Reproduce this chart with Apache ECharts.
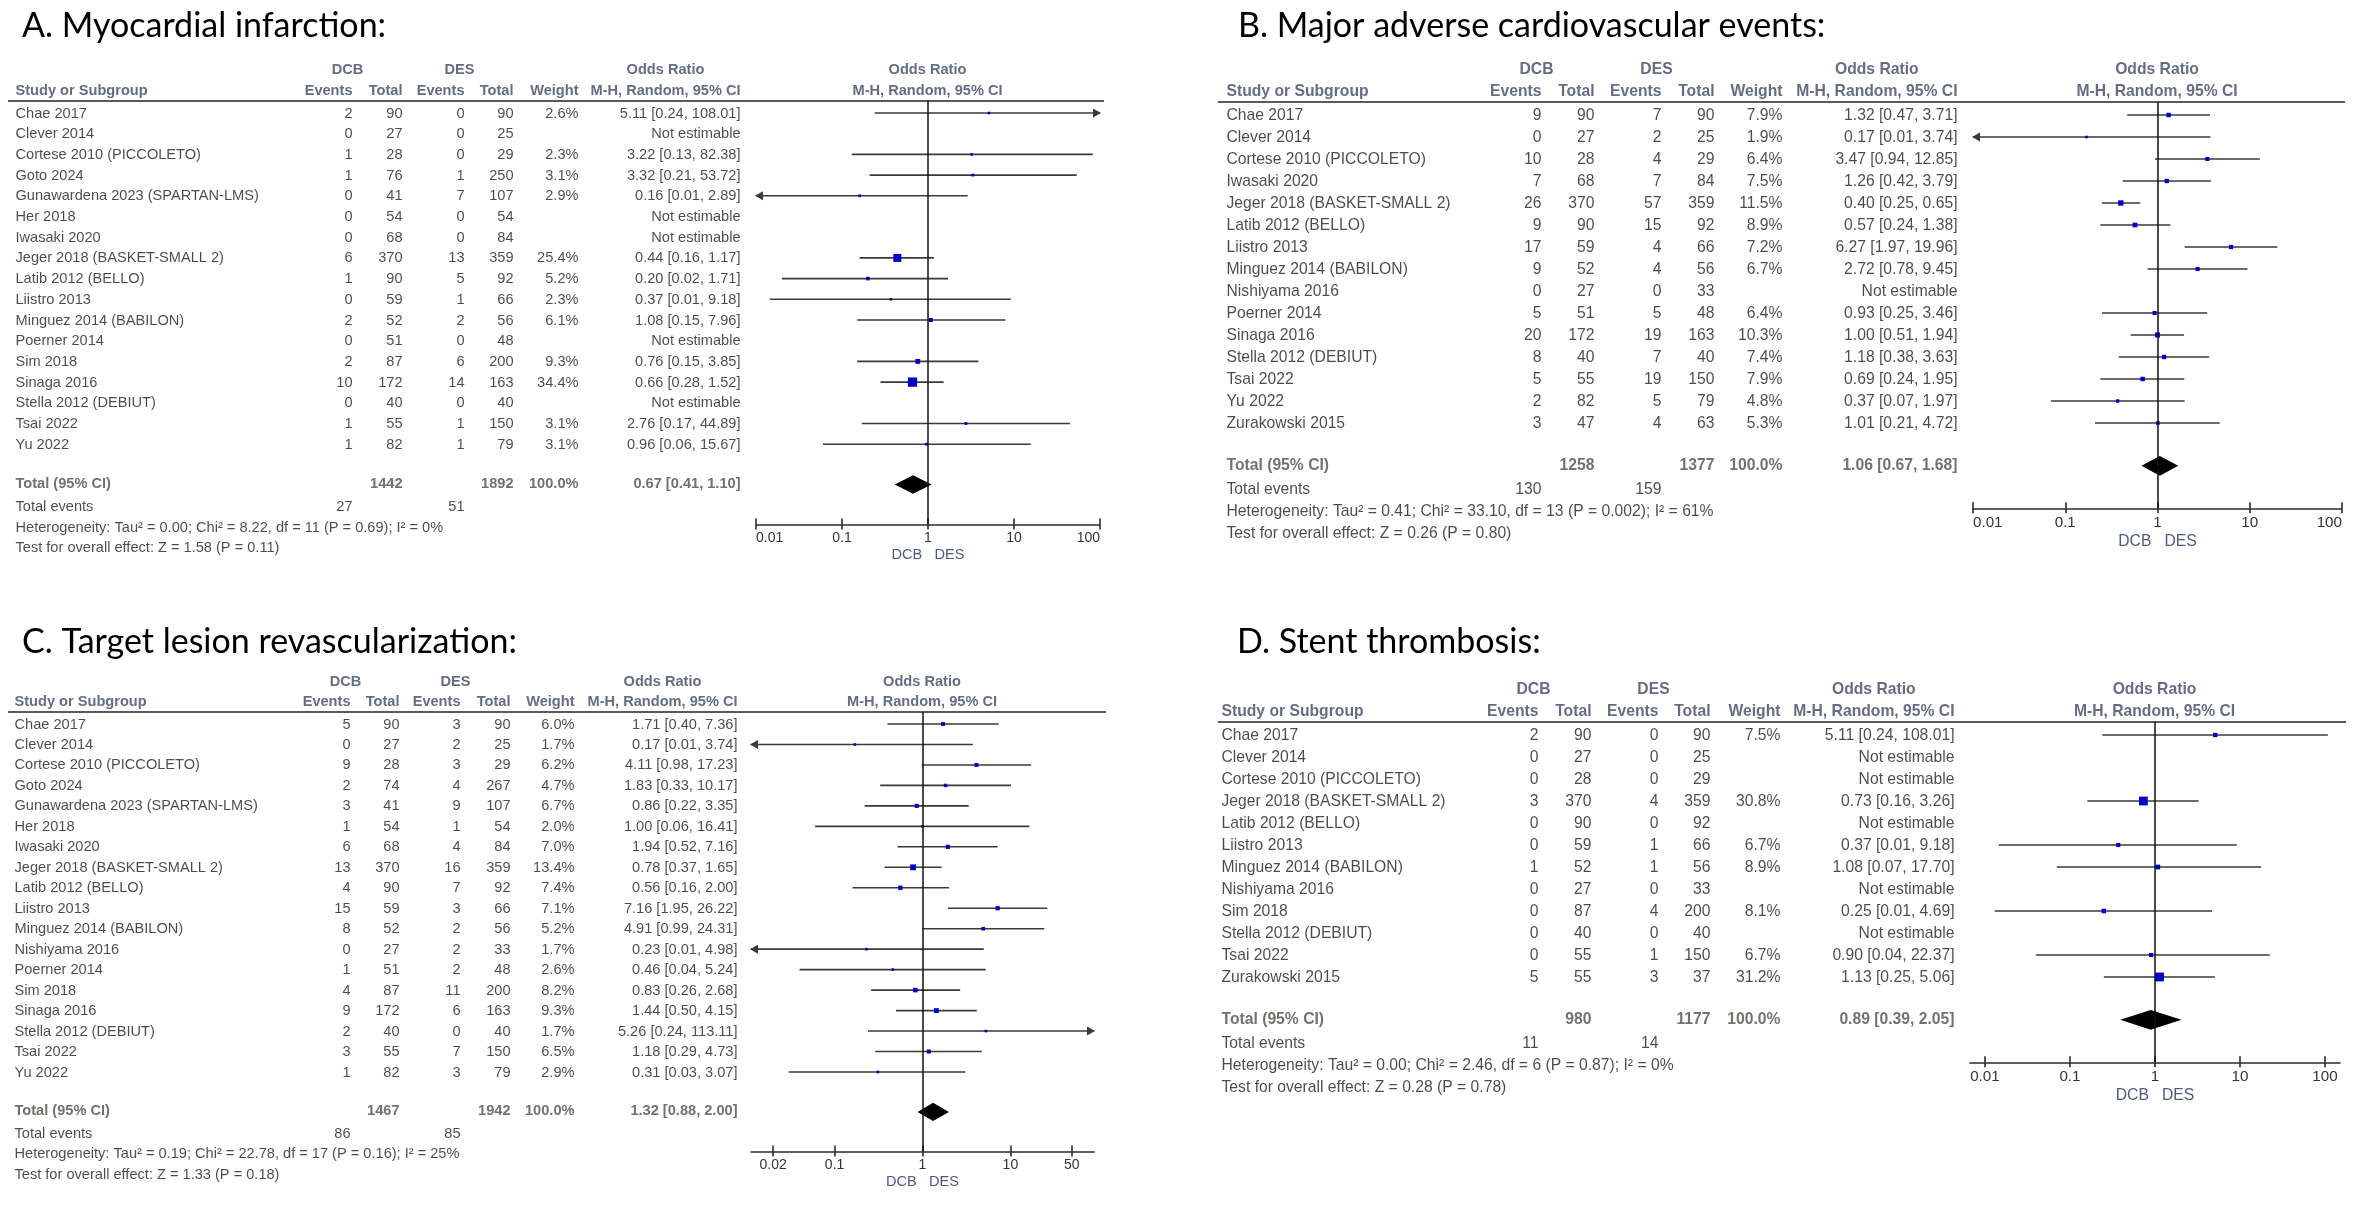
<!DOCTYPE html>
<html><head><meta charset="utf-8">
<script src="https://cdn.jsdelivr.net/npm/echarts@6/dist/echarts.min.js"></script>
<style>html,body{margin:0;padding:0;background:#fff}#c{width:2370px;height:1206px}</style>
</head><body><div id="c"></div><script>
// ---------------- DATA ----------------
// A. Myocardial infarction
const studiesMI = ["Chae 2017","Clever 2014","Cortese 2010 (PICCOLETO)","Goto 2024","Gunawardena 2023 (SPARTAN-LMS)","Her 2018","Iwasaki 2020","Jeger 2018 (BASKET-SMALL 2)","Latib 2012 (BELLO)","Liistro 2013","Minguez 2014 (BABILON)","Poerner 2014","Sim 2018","Sinaga 2016","Stella 2012 (DEBIUT)","Tsai 2022","Yu 2022"];
const dcbEventsMI = [2,0,1,1,0,0,0,6,1,0,2,0,2,10,0,1,1];
const dcbTotalMI  = [90,27,28,76,41,54,68,370,90,59,52,51,87,172,40,55,82];
const desEventsMI = [0,0,0,1,7,0,0,13,5,1,2,0,6,14,0,1,1];
const desTotalMI  = [90,25,29,250,107,54,84,359,92,66,56,48,200,163,40,150,79];
const weightMI = [2.6,null,2.3,3.1,2.9,null,null,25.4,5.2,2.3,6.1,null,9.3,34.4,null,3.1,3.1];
const orMI     = [5.11,null,3.22,3.32,0.16,null,null,0.44,0.20,0.37,1.08,null,0.76,0.66,null,2.76,0.96];
const lowMI    = [0.24,null,0.13,0.21,0.009,null,null,0.16,0.02,0.0145,0.15,null,0.15,0.28,null,0.17,0.06];
const highMI   = [108.01,null,82.38,53.72,2.89,null,null,1.17,1.71,9.18,7.96,null,3.85,1.52,null,44.89,15.67];
const totalsMI = [1442,1892];
const totalEventsMI = [27,51];
const pooledMI = [0.67,0.41,1.10];
const hetMI  = "Heterogeneity: Tau² = 0.00; Chi² = 8.22, df = 11 (P = 0.69); I² = 0%";
const testMI = "Test for overall effect: Z = 1.58 (P = 0.11)";

// B. Major adverse cardiovascular events
const studiesMACE = ["Chae 2017","Clever 2014","Cortese 2010 (PICCOLETO)","Iwasaki 2020","Jeger 2018 (BASKET-SMALL 2)","Latib 2012 (BELLO)","Liistro 2013","Minguez 2014 (BABILON)","Nishiyama 2016","Poerner 2014","Sinaga 2016","Stella 2012 (DEBIUT)","Tsai 2022","Yu 2022","Zurakowski 2015"];
const dcbEventsMACE = [9,0,10,7,26,9,17,9,0,5,20,8,5,2,3];
const dcbTotalMACE  = [90,27,28,68,370,90,59,52,27,51,172,40,55,82,47];
const desEventsMACE = [7,2,4,7,57,15,4,4,0,5,19,7,19,5,4];
const desTotalMACE  = [90,25,29,84,359,92,66,56,33,48,163,40,150,79,63];
const weightMACE = [7.9,1.9,6.4,7.5,11.5,8.9,7.2,6.7,null,6.4,10.3,7.4,7.9,4.8,5.3];
const orMACE     = [1.32,0.17,3.47,1.26,0.40,0.57,6.27,2.72,null,0.93,1.00,1.18,0.69,0.37,1.01];
const lowMACE    = [0.47,0.008,0.94,0.42,0.25,0.24,1.97,0.78,null,0.25,0.51,0.38,0.24,0.07,0.21];
const highMACE   = [3.71,3.74,12.85,3.79,0.65,1.38,19.96,9.45,null,3.46,1.94,3.63,1.95,1.97,4.72];
const totalsMACE = [1258,1377];
const totalEventsMACE = [130,159];
const pooledMACE = [1.06,0.67,1.68];
const hetMACE  = "Heterogeneity: Tau² = 0.41; Chi² = 33.10, df = 13 (P = 0.002); I² = 61%";
const testMACE = "Test for overall effect: Z = 0.26 (P = 0.80)";

// C. Target lesion revascularization
const studiesTLR = ["Chae 2017","Clever 2014","Cortese 2010 (PICCOLETO)","Goto 2024","Gunawardena 2023 (SPARTAN-LMS)","Her 2018","Iwasaki 2020","Jeger 2018 (BASKET-SMALL 2)","Latib 2012 (BELLO)","Liistro 2013","Minguez 2014 (BABILON)","Nishiyama 2016","Poerner 2014","Sim 2018","Sinaga 2016","Stella 2012 (DEBIUT)","Tsai 2022","Yu 2022"];
const dcbEventsTLR = [5,0,9,2,3,1,6,13,4,15,8,0,1,4,9,2,3,1];
const dcbTotalTLR  = [90,27,28,74,41,54,68,370,90,59,52,27,51,87,172,40,55,82];
const desEventsTLR = [3,2,3,4,9,1,4,16,7,3,2,2,2,11,6,0,7,3];
const desTotalTLR  = [90,25,29,267,107,54,84,359,92,66,56,33,48,200,163,40,150,79];
const weightTLR = [6.0,1.7,6.2,4.7,6.7,2.0,7.0,13.4,7.4,7.1,5.2,1.7,2.6,8.2,9.3,1.7,6.5,2.9];
const orTLR     = [1.71,0.17,4.11,1.83,0.86,1.00,1.94,0.78,0.56,7.16,4.91,0.23,0.46,0.83,1.44,5.26,1.18,0.31];
const lowTLR    = [0.40,0.008,0.98,0.33,0.22,0.06,0.52,0.37,0.16,1.95,0.99,0.0106,0.04,0.26,0.50,0.24,0.29,0.03];
const highTLR   = [7.36,3.74,17.23,10.17,3.35,16.41,7.16,1.65,2.00,26.22,24.31,4.98,5.24,2.68,4.15,113.11,4.73,3.07];
const totalsTLR = [1467,1942];
const totalEventsTLR = [86,85];
const pooledTLR = [1.32,0.88,2.00];
const hetTLR  = "Heterogeneity: Tau² = 0.19; Chi² = 22.78, df = 17 (P = 0.16); I² = 25%";
const testTLR = "Test for overall effect: Z = 1.33 (P = 0.18)";

// D. Stent thrombosis
const studiesST = ["Chae 2017","Clever 2014","Cortese 2010 (PICCOLETO)","Jeger 2018 (BASKET-SMALL 2)","Latib 2012 (BELLO)","Liistro 2013","Minguez 2014 (BABILON)","Nishiyama 2016","Sim 2018","Stella 2012 (DEBIUT)","Tsai 2022","Zurakowski 2015"];
const dcbEventsST = [2,0,0,3,0,0,1,0,0,0,0,5];
const dcbTotalST  = [90,27,28,370,90,59,52,27,87,40,55,55];
const desEventsST = [0,0,0,4,0,1,1,0,4,0,1,3];
const desTotalST  = [90,25,29,359,92,66,56,33,200,40,150,37];
const weightST = [7.5,null,null,30.8,null,6.7,8.9,null,8.1,null,6.7,31.2];
const orST     = [5.11,null,null,0.73,null,0.37,1.08,null,0.25,null,0.90,1.13];
const lowST    = [0.24,null,null,0.16,null,0.0145,0.07,null,0.013,null,0.04,0.25];
const highST   = [108.01,null,null,3.26,null,9.18,17.70,null,4.69,null,22.37,5.06];
const totalsST = [980,1177];
const totalEventsST = [11,14];
const pooledST = [0.89,0.39,2.05];
const hetST  = "Heterogeneity: Tau² = 0.00; Chi² = 2.46, df = 6 (P = 0.87); I² = 0%";
const testST = "Test for overall effect: Z = 0.28 (P = 0.78)";

const axisTicksDecades = [0.01,0.1,1,10,100];
const axisTicksTLR = [0.02,0.1,1,10,50];

// ---------------- LAYOUT ----------------
const panels = [
  {title:"A. Myocardial infarction:", tx:22, ty:30, left:8, right:1104, row0:114, s:20.7, fs:14.6, tfs:14,
   cols:[16,353,403,465,514,579,741], plot:[756,1100], range:[0.01,100], ticks:axisTicksDecades, alignEnds:true,
   d:[studiesMI,dcbEventsMI,dcbTotalMI,desEventsMI,desTotalMI,weightMI,orMI,lowMI,highMI,totalsMI,totalEventsMI,pooledMI,hetMI,testMI]},
  {title:"B. Major adverse cardiovascular events:", tx:1238, ty:30, left:1218, right:2345, row0:116, s:22.0, fs:15.7, tfs:15.2,
   cols:[1227,1542,1595,1662,1715,1783,1958], plot:[1973,2342], range:[0.01,100], ticks:axisTicksDecades, alignEnds:true,
   d:[studiesMACE,dcbEventsMACE,dcbTotalMACE,desEventsMACE,desTotalMACE,weightMACE,orMACE,lowMACE,highMACE,totalsMACE,totalEventsMACE,pooledMACE,hetMACE,testMACE]},
  {title:"C. Target lesion revascularization:", tx:22, ty:646, left:8, right:1106, row0:725, s:20.47, fs:14.6, tfs:14,
   cols:[15,351,400,461,511,575,738], plot:[751,1094], range:[0.0112,89.3], ticks:axisTicksTLR, alignEnds:false,
   d:[studiesTLR,dcbEventsTLR,dcbTotalTLR,desEventsTLR,desTotalTLR,weightTLR,orTLR,lowTLR,highTLR,totalsTLR,totalEventsTLR,pooledTLR,hetTLR,testTLR]},
  {title:"D. Stent thrombosis:", tx:1237, ty:646, left:1218, right:2346, row0:736, s:22.0, fs:15.7, tfs:15.2,
   cols:[1222,1539,1592,1659,1711,1781,1955], plot:[1970,2340], range:[0.00667,150], ticks:axisTicksDecades, alignEnds:false,
   d:[studiesST,dcbEventsST,dcbTotalST,desEventsST,desTotalST,weightST,orST,lowST,highST,totalsST,totalEventsST,pooledST,hetST,testST]}
];

const FONT = "'Liberation Sans', Arial, Helvetica, sans-serif";
const TXT = '#1e1e1e', HDR = '#3f4866', TOT = '#524c46';
const grids=[], xAxes=[], yAxes=[], series=[], titles=[];

function ci(o,l,h){ return o.toFixed(2)+' ['+l.toFixed(2)+', '+h.toFixed(2)+']'; }

panels.forEach(P => {
  const [studies,dcbEv,dcbTot,desEv,desTot,weight,or,lo,hi,totals,totEv,pooled,het,test] = P.d;
  const n = studies.length;
  const totalRow = n - 1 + 1.9, teRow = totalRow + 1.1, hetRow = teRow + 1.0, testRow = hetRow + 1.0, axisRow = totalRow + 1.93;
  const tMin = -3, tMax = testRow + 0.9, lineRow = -0.65;
  const [cName,cDcbEv,cDcbTot,cDesEv,cDesTot,cW,cOR] = P.cols;
  const plotMid = (P.plot[0] + P.plot[1]) / 2;

  titles.push({text:P.title, left:P.tx, top:P.ty - 21, padding:0,
    textStyle:{fontFamily:"Lato, 'Open Sans', sans-serif", fontSize:34, fontWeight:'normal', color:'#000'}});

  const plotRect = {left:P.plot[0], top:P.row0 + lineRow*P.s, width:P.plot[1]-P.plot[0], height:(axisRow-lineRow)*P.s, outerBoundsMode:'none'};
  const gT = grids.length;
  grids.push({left:P.left, top:P.row0 + tMin*P.s, width:P.right-P.left, height:(tMax-tMin)*P.s, outerBoundsMode:'none'});
  const gP = grids.length;
  grids.push(Object.assign({}, plotRect));
  const gK = grids.length;           // twin grid for the upward tick marks
  grids.push(Object.assign({}, plotRect));

  const xT = xAxes.length;
  xAxes.push({type:'value', gridIndex:gT, min:P.left, max:P.right, show:false});
  const yT = yAxes.length;
  yAxes.push({type:'value', gridIndex:gT, min:tMin, max:tMax, inverse:true, show:false});

  const xP = xAxes.length;
  xAxes.push({type:'log', logBase:10, gridIndex:gP, min:P.range[0], max:P.range[1], position:'bottom',
    axisLine:{show:true, onZero:false, lineStyle:{color:'#2a2a2a', width:1.6}},
    axisTick:{show:true, inside:false, length:5, customValues:P.ticks, lineStyle:{color:'#2a2a2a', width:1.6}},
    axisLabel:{show:true, customValues:P.ticks, margin:7, color:'#333', fontFamily:FONT, fontSize:P.tfs,
      formatter:v=>String(+v.toPrecision(6)),
      alignMinLabel:P.alignEnds?'left':null, alignMaxLabel:P.alignEnds?'right':null},
    splitLine:{show:false},
    name:'DCB   DES', nameLocation:'middle', nameGap:1.6*P.fs,
    nameTextStyle:{color:'#4e5b80', fontFamily:FONT, fontSize:P.fs}});
  const yP = yAxes.length;
  yAxes.push({type:'value', gridIndex:gP, min:lineRow, max:axisRow, inverse:true, show:false});

  xAxes.push({type:'log', logBase:10, gridIndex:gK, min:P.range[0], max:P.range[1], position:'bottom',
    axisLine:{show:false, onZero:false}, axisLabel:{show:false}, splitLine:{show:false},
    axisTick:{show:true, inside:true, length:6, customValues:P.ticks, lineStyle:{color:'#2a2a2a', width:1.6}}});
  yAxes.push({type:'value', gridIndex:gK, min:lineRow, max:axisRow, inverse:true, show:false});

  // ---- table texts ----
  const texts = [];
  const T = (x,row,text,extra) => texts.push({name:text, value:[x,row], label:extra||{}});
  const hdr = {fontWeight:'bold', color:HDR};
  const hdrC = {fontWeight:'bold', color:HDR, align:'center'};
  const tot = {fontWeight:'bold', color:TOT};
  T(cDcbEv-5, -2.1, 'DCB', hdrC);
  T(cDesEv-5, -2.1, 'DES', hdrC);
  T(cOR - 5.14*P.fs, -2.1, 'Odds Ratio', hdrC);
  T(plotMid, -2.1, 'Odds Ratio', hdrC);
  T(cName, -1.1, 'Study or Subgroup', {fontWeight:'bold', color:HDR, align:'left'});
  T(cDcbEv, -1.1, 'Events', hdr);
  T(cDcbTot, -1.1, 'Total', hdr);
  T(cDesEv, -1.1, 'Events', hdr);
  T(cDesTot, -1.1, 'Total', hdr);
  T(cW, -1.1, 'Weight', hdr);
  T(cOR, -1.1, 'M-H, Random, 95% CI', hdr);
  T(plotMid, -1.1, 'M-H, Random, 95% CI', hdrC);
  for (let i=0;i<n;i++){
    T(cName, i, studies[i], {align:'left'});
    T(cDcbEv, i, String(dcbEv[i]));
    T(cDcbTot, i, String(dcbTot[i]));
    T(cDesEv, i, String(desEv[i]));
    T(cDesTot, i, String(desTot[i]));
    if (weight[i] != null) T(cW, i, weight[i].toFixed(1)+'%');
    T(cOR, i, or[i] != null ? ci(or[i],lo[i],hi[i]) : 'Not estimable');
  }
  T(cName, totalRow, 'Total (95% CI)', {fontWeight:'bold', color:TOT, align:'left'});
  T(cDcbTot, totalRow, String(totals[0]), tot);
  T(cDesTot, totalRow, String(totals[1]), tot);
  T(cW, totalRow, '100.0%', tot);
  T(cOR, totalRow, ci(pooled[0],pooled[1],pooled[2]), tot);
  T(cName, teRow, 'Total events', {align:'left'});
  T(cDcbEv, teRow, String(totEv[0]));
  T(cDesEv, teRow, String(totEv[1]));
  T(cName, hetRow, het, {align:'left'});
  T(cName, testRow, test, {align:'left'});

  series.push({type:'scatter', xAxisIndex:xT, yAxisIndex:yT, symbolSize:1, silent:true,
    itemStyle:{color:'rgba(0,0,0,0)'}, emphasis:{disabled:true},
    label:{show:true, position:[0,0], formatter:'{b}', fontFamily:FONT, fontSize:P.fs, color:TXT, align:'right', verticalAlign:'middle'},
    markLine:{silent:true, symbol:['none','none'], label:{show:false}, animation:false,
      lineStyle:{color:'#5a5a5a', width:2.2, type:'solid'}, data:[{yAxis:lineRow}]},
    data:texts});

  // ---- study CIs and boxes ----
  const studyData = [];
  for (let i=0;i<n;i++) if (or[i] != null) studyData.push([or[i], lo[i], hi[i], i, weight[i]]);
  series.push({type:'custom', xAxisIndex:xP, yAxisIndex:yP, clip:false, silent:true, data:studyData,
    renderItem:(params, api) => {
      const cs = params.coordSys;
      const row = api.value(3);
      const y = api.coord([1,row])[1] - 1;
      const xMin = cs.x, xMax = cs.x + cs.width;
      let x1 = api.coord([api.value(1),row])[0], x2 = api.coord([api.value(2),row])[0];
      const la = x1 < xMin - 0.5, ra = x2 > xMax + 0.5;
      x1 = Math.max(x1,xMin); x2 = Math.min(x2,xMax);
      const ch = [{type:'line', shape:{x1:x1, y1:y, x2:x2, y2:y}, style:{stroke:'#3a3a3a', lineWidth:1.6}}];
      if (la) ch.push({type:'polygon', shape:{points:[[xMin-1,y],[xMin+7,y-4.5],[xMin+7,y+4.5]]}, style:{fill:'#3a3a3a'}});
      if (ra) ch.push({type:'polygon', shape:{points:[[xMax+1,y],[xMax-7,y-4.5],[xMax-7,y+4.5]]}, style:{fill:'#3a3a3a'}});
      const cx = api.coord([api.value(0),row])[0];
      const sz = Math.max(2.6, 1.58*Math.sqrt(api.value(4)));
      ch.push({type:'rect', shape:{x:cx-sz/2, y:y-sz/2, width:sz, height:sz}, style:{fill:'#0000c8'}});
      return {type:'group', children:ch};
    }});

  // ---- pooled diamond + line of no effect ----
  const halfH = 0.45*P.s;
  series.push({type:'custom', xAxisIndex:xP, yAxisIndex:yP, clip:false, silent:true,
    data:[[pooled[0], pooled[1], pooled[2], totalRow]],
    renderItem:(params, api) => {
      const row = api.value(3);
      const c = api.coord([api.value(0),row]);
      const l = api.coord([api.value(1),row])[0], h = api.coord([api.value(2),row])[0];
      return {type:'polygon', shape:{points:[[l,c[1]],[c[0],c[1]-halfH],[h,c[1]],[c[0],c[1]+halfH]]}, style:{fill:'#000'}};
    },
    markLine:{silent:true, symbol:['none','none'], label:{show:false}, animation:false,
      lineStyle:{color:'#111', width:1.5, type:'solid'}, data:[{xAxis:1}]}});
});

const chart = echarts.init(document.getElementById('c'), null, {renderer:'canvas', width:2370, height:1206});
chart.setOption({backgroundColor:'#fff', animation:false, title:titles, grid:grids, xAxis:xAxes, yAxis:yAxes, series:series});
</script></body></html>
